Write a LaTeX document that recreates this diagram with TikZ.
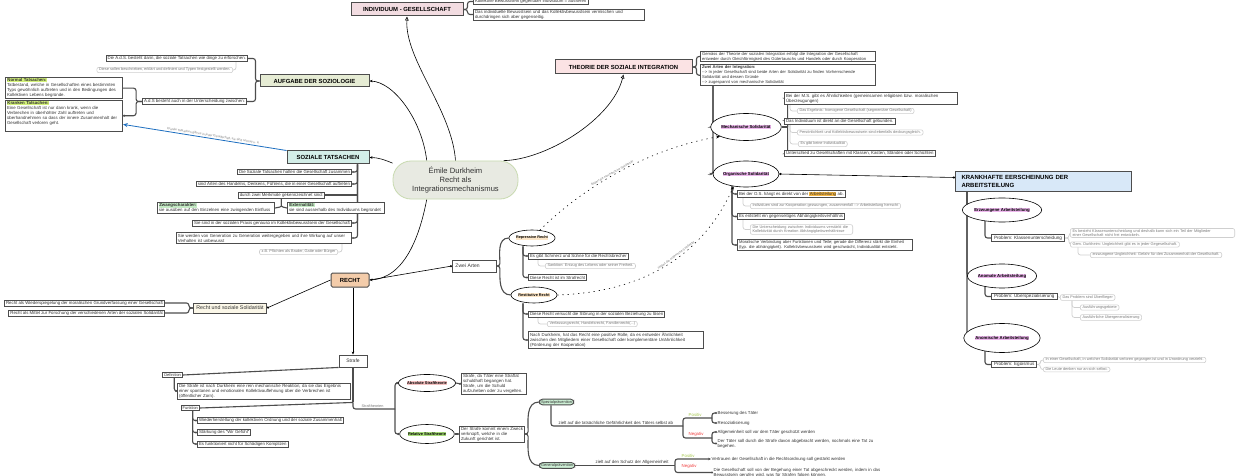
\documentclass[tikz,border=0pt]{standalone}
\usepackage{fontspec}
\setmainfont{Liberation Sans}
\usetikzlibrary{shapes.geometric,arrows.meta,calc}
\definecolor{bd}{HTML}{4D4D4D}
\definecolor{txt}{HTML}{333333}
\definecolor{ntc}{HTML}{7A7A7A}
\definecolor{ntb}{HTML}{CFCFCF}
\definecolor{cenf}{HTML}{E8EAE2}
\definecolor{cenb}{HTML}{C8DAB0}
\definecolor{tpink}{HTML}{F2DCE1}
\definecolor{tpinkb}{HTML}{FBE3E4}
\definecolor{tgreen}{HTML}{E6ECD4}
\definecolor{tcyan}{HTML}{D3EEE8}
\definecolor{tpeach}{HTML}{F3CCAA}
\definecolor{tblue}{HTML}{D8E8F8}
\definecolor{hlpink}{HTML}{EEB8EE}
\definecolor{hlyg}{HTML}{D4F27A}
\definecolor{hlg}{HTML}{C5EBC5}
\definecolor{hlor}{HTML}{FCE6C8}
\definecolor{horange}{HTML}{F5B53F}
\definecolor{hlred}{HTML}{F5C2C2}
\definecolor{hlgr}{HTML}{A9DE7A}
\definecolor{spf}{HTML}{CDEFD5}
\definecolor{posc}{HTML}{A8C850}
\definecolor{negc}{HTML}{F03C3C}
\definecolor{blueA}{HTML}{1C6EC0}
\definecolor{cream}{HTML}{FBF7E8}
\newcommand{\hlc}[2]{{\setlength{\fboxsep}{0.35pt}\colorbox{#1}{#2}}}
\newcommand{\myfs}{\fontsize{4.35}{5}\selectfont}
\newcommand{\myfsb}{\fontsize{4.15}{4.9}\selectfont}
\newcommand{\mynt}{\fontsize{3.85}{4.4}\selectfont}
\newcommand{\myttl}{\fontsize{5.9}{7}\selectfont\bfseries}
\newcommand{\myel}{\fontsize{4.3}{5}\selectfont\bfseries}
\newcommand{\mymid}{\fontsize{5}{6}\selectfont}
\pgfdeclarelayer{back}
\pgfdeclarelayer{bg}
\pgfsetlayers{back,bg,main}
\tikzset{
 bx/.style={draw=bd, line width=0.9pt, fill=white, font=\myfs, text=txt, inner xsep=1.6pt, inner ysep=1pt, align=left},
 nt/.style={draw=ntb, line width=0.6pt, rounded corners=2pt, fill=white, font=\mynt, text=ntc, inner xsep=2.2pt, inner ysep=0.9pt, align=left},
 ttl/.style={draw=bd, line width=1pt, font=\myttl, text=black, inner sep=2pt},
 el/.style={ellipse, draw=black, line width=0.6pt, fill=white, inner sep=0pt, font=\myel},
 br/.style={draw=bd, line width=1.1pt, rounded corners=2.5pt},
 gbr/.style={draw=ntb, line width=0.7pt, rounded corners=2.5pt},
 cn/.style={draw=black, line width=0.6pt},
 pl/.style={font=\myfs, text=txt, inner sep=0.5pt, anchor=west, align=left},
 dt/.style={-{Circle[length=2pt]}},
 sa/.style={-{Stealth[length=3pt,width=2.6pt]}},
 dotarr/.style={draw=black, line width=0.6pt, dash pattern=on 1.2pt off 4pt, -{Stealth[length=4pt,width=3pt]}},
 dlab/.style={font=\fontsize{3.1}{3.6}\selectfont, text=ntc, inner sep=0.8pt},
}
\begin{document}
\begin{tikzpicture}[x=1pt,y=-1pt]
\useasboundingbox (0,0) rectangle (1240,476);
\begin{pgfonlayer}{back}
\fill[white] (0,0) rectangle (1240,476);
\end{pgfonlayer}

% ---------- central ----------
\node[draw=cenb, fill=cenf, line width=0.8pt, rounded corners=18pt, minimum width=125pt, minimum height=38pt, align=center, font=\fontsize{7.6}{8.8}\selectfont, text=txt] (c) at (455.5,180) {Émile Durkheim\\Recht als\\Integrationsmechanismus};

% ---------- titles ----------
\node[ttl, fill=tpink, minimum width=112pt, minimum height=13pt] (ind) at (407,9.5) {INDIVIDUUM - GESELLSCHAFT};
\node[ttl, fill=tpinkb, minimum width=137pt, minimum height=14pt] (th) at (623.5,67) {THEORIE DER SOZIALE INTEGRATION};
\node[ttl, fill=tgreen, minimum width=109pt, minimum height=12pt] (auf) at (314.5,81) {AUFGABE DER SOZIOLOGIE};
\node[ttl, fill=tcyan, minimum width=82pt, minimum height=13pt] (st) at (328,157.5) {SOZIALE TATSACHEN};
\node[ttl, fill=tpeach, minimum width=38pt, minimum height=14pt, rounded corners=1.5pt] (re) at (350,280) {RECHT};
\node[ttl, fill=tblue, anchor=north west, text width=164pt, inner xsep=6pt, align=left, minimum height=20pt, font=\fontsize{6}{7.4}\selectfont\bfseries] (kr) at (955,171) {KRANKHAFTE EERSCHEINUNG DER\\ARBEITSTEILUNG};

% ---------- Individuum ----------
\node[bx, anchor=west] (i1) at (473,1.5) {Kollektive Bewusstsein gegenüber Individuum = äusseren};
\node[bx, anchor=west, text width=168pt] (i2) at (473,14.5) {Das individuelle Bewusstsein und das Kollektivbewusstsein vermischen und\\durchdringen sich aber gegenseitig.};

% ---------- Theorie ----------
\node[bx, anchor=west, text width=172pt, font=\myfsb] (t1) at (700,56.5) {Gemäss der Theorie der sozialen Integration erfolgt die Integration der Gesellschaft\\entweder durch Gleichförmigkeit des Gütertauschs und Handels oder durch Kooperation};
\node[bx, anchor=north west, text width=172pt, font=\myfsb] (t2) at (700,64.5) {\textbf{Zwei Arten der Integration:}\\{-}{-}> In jeder Gesellschaft sind beide Arten der Solidarität zu finden Vorherrschende\\Solidarität und dessen Gründe\\{-}{-}> zugespannt von mechanische Solidarität};

\node[el, minimum width=54pt, minimum height=27pt] (me) at (746,127) {\hlc{hlpink}{Mechanische Solidarität}};
\node[el, minimum width=55pt, minimum height=26pt] (org) at (746,174) {\hlc{hlpink}{Organische Solidarität}};

\node[bx, anchor=west, text width=170pt] (m1) at (784,98.5) {Bei der M.S. gibt es Ähnlichkeiten (gemeinsamen religiösen bzw. moralischen\\Überzeugungen)};
\node[nt, anchor=west] (m1n) at (797,111) {Das Ergebnis: homogene Gesellschaft (segmentäre Gesellschaft)};
\node[bx, anchor=west] (m2) at (784,121) {Das Individuum ist direkt an die Gesellschaft gebunden.};
\node[nt, anchor=west] (m2a) at (797,132.5) {Persönlichkeit und Kollektivbewusstsein sind ebenfalls deckungsgleich.};
\node[nt, anchor=west] (m2b) at (798,144) {Es gibt keine Individualität};
\node[bx, anchor=west] (m3) at (784,153.5) {Unterschied zu Gesellschaften mit Klassen, Kasten, Ständen oder Schichten};

\node[bx, anchor=west] (o1) at (737,194) {Bei der O.S. hängt es direkt von der \hlc{horange}{Arbeitsteilung} ab.};
\node[nt, anchor=west] (o1n) at (750,206) {Individuen sind zur Kooperation gezwungen, zusammenfall {-}{-}> Arbeitsteilung herrscht};
\node[bx, anchor=west] (o2) at (737,216.5) {Es entsteht ein gegenseitiges Abhängigkeitsverhältnis};
\node[nt, anchor=west, text width=98pt] (o2n) at (750,229.5) {Die Unterscheidung zwischen Individuums verstärkt die Kollektivität durch Kreation Abhängigkeitsverhältnisse};
\node[bx, anchor=west, text width=172pt, font=\myfsb] (o3) at (737,245) {Moralische Verbindung aber Funktionen und Teile; gerade die Differenz stärkt die Einheit\\(typ. die abhängigkeit). Kollektivbewusstsein wird geschwächt, Individualität entsteht.};

% ---------- Krankhafte ----------
\node[el, minimum width=58pt, minimum height=24pt] (e1) at (1002,210) {\hlc{hlpink}{Erzwungene Arbeitsteilung}};
\node[el, minimum width=58pt, minimum height=24pt] (e2) at (1002,276) {\hlc{hlpink}{Anomale Arbeitsteilung}};
\node[el, minimum width=58pt, minimum height=29pt] (e3) at (1002,338) {\hlc{hlpink}{Anomische Arbeitsteilung}};
\node[bx, anchor=west, line width=1.1pt, inner xsep=2.5pt, font=\fontsize{4.6}{5.4}\selectfont] (p1) at (991,238) {Problem: Klassenunterscheidung};
\node[bx, anchor=west, line width=1.1pt, inner xsep=2.5pt, font=\fontsize{4.6}{5.4}\selectfont] (p2) at (991,296.5) {Problem: Überspezialisierung};
\node[bx, anchor=west, line width=1.1pt, inner xsep=2.5pt, font=\fontsize{4.6}{5.4}\selectfont] (p3) at (991,364.5) {Problem: Egoismus};
\node[nt, anchor=west, text width=160pt] (n1a) at (1070,233) {Es besteht Klassenunterscheidung und deshalb kann sich ein Teil der Mitglieder\\einer Gesellschaft nicht frei entwickeln.};
\node[nt, anchor=west] (n1b) at (1070,244.5) {Gem. Durkheim: Ungleichheit gibt es in jeder Gegesellschaft.};
\node[nt, anchor=west] (n1c) at (1090,255) {erzwungene Ungleichheit: Gefahr für den Zusammenhalt der Gesellschaft.};
\node[nt, anchor=west] (n2a) at (1060,297.5) {Das Problem sind Überflieger};
\node[nt, anchor=west] (n2b) at (1080,307.5) {Ausführungsgebiete};
\node[nt, anchor=west] (n2c) at (1080,317.5) {Ausführliche Übergeneralisierung};
\node[nt, anchor=west] (n3a) at (1043,360) {In einer Gesellschaft, in welcher Solidarität verloren gegangen ist und in Unordnung verzieht.};
\node[nt, anchor=west] (n3b) at (1043,369.5) {Die Leute denken nur an sich selbst.};

% ---------- Aufgabe ----------
\node[bx, anchor=east] (a1) at (248,58.5) {Die A.d.S. besteht darin, die soziale Tatsachen wie dinge zu erforschen.};
\node[nt, anchor=east] (a1n) at (233,70) {Diese sollen beschrieben, erklärt und definiert und Typen festgestellt werden.};
\node[bx, anchor=east] (a2) at (247,101.5) {A.d.S besteht auch in der Unterscheidung zwischen:};
\node[bx, anchor=north west, text width=114pt] (nor) at (5,77) {\hlc{hlyg}{\textbf{Normal Tatsachen:}}\\Tatbestand, welche in Gesellschaften eines bestimmten\\Typs gewöhnlich auftreten und in den Bedingungen des\\Kollektiven Lebens begründe.};
\node[bx, anchor=north west, text width=114pt] (kra) at (5,100) {\hlc{hlyg}{\textbf{Kranken Tatsachen:}}\\Eine Gesellschaft ist nur dann krank, wenn die\\Verbrechen in überhöhter Zahl auftreten und\\überhandnehmen so dass der innere Zusammenhalt der\\Gesellschaft verloren geht.\\~};

% ---------- Soziale Tatsachen ----------
\node[bx, anchor=east] (s1) at (352,172) {Die Soziale Tatsachen halten die Gesellschaft zusammen};
\node[bx, anchor=east] (s2) at (352,184) {sind Arten des Handelns, Denkens, Fühlens, die in einer Gesellschaft auftreten};
\node[bx, anchor=east] (s3) at (325,195) {durch zwei Merkmale gekennzeichnet sind:};
\node[bx, anchor=east, text width=114pt] (zw) at (275,208) {\hlc{hlg}{\textbf{Zwangscharakter:}}\\sie ausüben auf den Einzelnen eine zwingenden Einfluss};
\node[bx, anchor=west, text width=94pt] (ex) at (287,208) {\hlc{hlg}{\textbf{Externalität:}}\\sie sind ausserhalb des Individuums begründet};
\node[bx, anchor=east] (s4) at (352,223) {Sie sind in der sozialen Praxis genauso im Kollektivbewusstsein der Gesellschaft};
\node[bx, anchor=east, text width=172pt] (s5) at (352,238) {Sie werden von Generation zu Generation weitergegeben und ihre Wirkung auf unser\\Verhalten ist unbewusst};
\node[nt, anchor=east] (s5n) at (338,252) {z.B. Pflichten als Bruder, Gatte oder Bürger};

% ---------- Recht ----------
\node[bx, anchor=east, fill=cream, font=\fontsize{5.3}{6.3}\selectfont, inner xsep=3pt, minimum height=10pt] (rs) at (267,308) {Recht und soziale Solidarität};
\node[bx, anchor=east] (rs1) at (165,303) {Recht als Wiederspiegelung der moralischen Grundverfassung einer Gesellschaft};
\node[bx, anchor=east] (rs2) at (165,313) {Recht als Mittel zur Forschung der verschiedenen Arten der sozialen Solidarität};
\node[bx, anchor=west, font=\mymid, text width=38pt, inner xsep=3pt, minimum height=12pt] (za) at (452,266) {Zwei Arten};
\node[el, minimum width=42pt, minimum height=16pt, font=\fontsize{3.8}{4.5}\selectfont\bfseries] (rep) at (532,238) {\hlc{hlor}{Repressive Recht}};
\node[el, minimum width=46pt, minimum height=16pt, font=\fontsize{3.8}{4.5}\selectfont\bfseries] (res) at (534,295) {\hlc{hlor}{Restitutive Recht}};
\node[bx, anchor=west] (r1) at (528,256) {Es gibt Schmerz und Sühne für die Rechtsbrecher};
\node[nt, anchor=west] (r1n) at (545,266) {Sanktion: Entzug des Lebens oder seiner Freiheit.};
\node[bx, anchor=west] (r2) at (528,277.5) {Diese Recht ist im Strafrecht};
\node[bx, anchor=west] (q1) at (528,314) {Diese Recht versucht die Störung in der sozialen Beziehung zu lösen};
\node[nt, anchor=west] (q1n) at (547,324) {Verfassungsrecht, Handelsrecht, Familienrecht(...)};
\node[bx, anchor=west, text width=172pt] (q2) at (528,340) {Nach Durkheim, hat das Recht eine positive Rolle, da es entweder Ähnlichkeit\\zwischen den Mitgliedern einer Gesellschaft oder komplementäre Unähnlichkeit\\(Förderung der Kooperation)};

% ---------- Strafe ----------
\node[bx, font=\mymid, minimum width=28pt, minimum height=12pt] (sf) at (353,361) {Strafe};
\node[bx, anchor=east, font=\fontsize{4}{4.6}\selectfont] (df) at (183,375) {Definition};
\node[bx, anchor=west, text width=170pt] (dfn) at (177,391) {Die Strafe ist nach Durkheim eine rein mechanische Reaktion, da sie das Ergebnis\\einer spontanen und emotionalen Kollektivauflehnung über die Verbrechen ist\\(öffentlicher Zorn).};
\node[bx, anchor=east, font=\fontsize{4}{4.6}\selectfont] (fn) at (200,408) {Funktion};
\node[bx, anchor=west] (f1) at (197,420.5) {Wiederherstellung der kollektiven Ordnung und der soziale Zusammenhalt};
\node[bx, anchor=west] (f2) at (197,432.5) {Stärkung des "Wir Gefühl"};
\node[bx, anchor=west] (f3) at (197,444) {Es funktioniert nicht für Schädigen Komplizen};
\coordinate (sj) at ($(sf.south)+(0,35)$);
\coordinate (stj) at (395,409);
\node[pl, anchor=south west, text=ntc, font=\fontsize{3.8}{4.4}\selectfont] (sth) at (361,408) {Straftheorien};
\node[el, minimum width=51pt, minimum height=17pt, font=\fontsize{3.9}{4.6}\selectfont\bfseries] (abs) at (427,383) {\hlc{hlred}{Absolute Straftheorie}};
\node[el, minimum width=51pt, minimum height=19pt, font=\fontsize{3.9}{4.6}\selectfont\bfseries] (rel) at (427,434) {\hlc{hlgr}{Relative Straftheorie}};
\node[bx, anchor=west, text width=62pt] (absb) at (461,384) {Strafe, da Täter eine Straftat\\schuldhaft begangen hat.\\Strafe, um die Schuld\\aufzuheben oder zu vergelten.};
\node[bx, anchor=west, text width=62pt] (relb) at (459,434) {Der Strafe kommt einem Zweck\\verknüpft, welche in die\\Zukunft gerichtet ist.};
\node[bx, anchor=west, fill=spf, rounded corners=3pt, font=\fontsize{3.9}{4.5}\selectfont] (sp) at (539,402) {Spezialprävention};
\node[bx, anchor=west, fill=spf, rounded corners=3pt, font=\fontsize{3.9}{4.5}\selectfont] (gp) at (539,465.5) {Generalprävention};
\coordinate (spj) at (683,426);
\coordinate (gpj) at (675,465.5);
\coordinate (pj1) at (712,418);
\coordinate (nj1) at (712,438);
\node[pl, anchor=south west] (spt) at (558,425.5) {zielt auf die tatsächliche Gefährlichkeit des Täters selbst ab};
\node[pl, anchor=south west] (gpt) at (595,465) {zielt auf den Schutz der Allgemeinheit};
\node[pl, anchor=south west, text=posc] (pos1) at (688,417.5) {Positiv};
\node[pl, anchor=south west, text=negc] (neg1) at (688,437.5) {Negativ};
\node[pl, anchor=south west, text=posc] (pos2) at (681,458.5) {Positiv};
\node[pl, anchor=south west, text=negc] (neg2) at (681,469.5) {Negativ};
\node[pl] (b1) at (717,413) {Besserung des Täter};
\node[pl] (b2) at (717,423) {Resozialisierung};
\node[pl] (b3) at (717,432) {Allgemeinheit soll vor dem Täter geschützt werden};
\node[pl, text width=160pt] (b4) at (717,443.5) {Der Täter soll durch die Strafe davon abgebracht werden, nochmals eine Tat zu\\begehen.};
\node[pl] (v1) at (711,459) {Vertrauen der Gesellschaft in die Rechtsordnung soll gestärkt werden};
\node[pl, text width=172pt] (v2) at (713,472.5) {Die Gesellschaft soll von der Begehung einer Tat abgeschreckt werden, indem in das\\Bewusstsein gerufen wird, was für Strafen folgen können.};

% ================= connectors =================
\begin{pgfonlayer}{bg}
% central
\draw[cn, -{Triangle[open,length=4pt,width=3.6pt]}] (c.north) .. controls (452,110) and (405,60) .. (ind.south);
\draw[cn, -{Triangle[open,length=4pt,width=3.6pt]}] (c.22) .. controls (545,160) and (612,120) .. (th.south);
\draw[cn, sa] (c.146) .. controls (422,120) and (394,82) .. (auf.east);
\draw[cn, sa] (c.165) .. controls (385,160) and (378,157.5) .. (st.east);
\draw[cn, sa] (c.214) .. controls (420,235) and (405,278) .. (re.east);
% individuum
\draw[br] (ind.east) -- ++(4,0) |- (i1.west);
\draw[br] (ind.east) -- ++(4,0) |- (i2.west);
% theorie
\draw[br] (th.east) -- ++(4,0) |- (t1.west);
\draw[br] (th.east) -- ++(4,0) |- (t2.west);
\coordinate (tv) at ($(t2.south west)+(13,0)$);
\draw[br, sa] (tv) |- (me.west);
\draw[br, sa] (tv) |- (org.west);
\coordinate (mv) at ($(me.east)+(6,0)$);
\draw[br] (me.east) -- (mv);
\draw[br, dt] (mv) |- (m1.west);
\draw[br, dt] (mv) |- (m2.west);
\draw[br, dt] (mv) |- (m3.west);
\draw[gbr] ($(m1.south west)+(6,0)$) |- (m1n.west);
\draw[gbr] ($(m2.south west)+(6,0)$) |- (m2a.west);
\draw[gbr] ($(m2.south west)+(6,0)$) |- (m2b.west);
\coordinate (ov) at ($(org.south)+(-14,-1)$);
\draw[br, dt] (ov) |- (o1.west);
\draw[br, dt] (ov) |- (o2.west);
\draw[br, dt] (ov) |- (o3.west);
\draw[gbr] ($(o1.south west)+(6,0)$) |- (o1n.west);
\draw[gbr] ($(o2.south west)+(6,0)$) |- (o2n.west);
\draw[cn, {Circle[open,length=2.2pt]}-{Circle[open,length=2.2pt]}] (org.east) -- ($(kr.west)+(0,-4)$);
% krankhafte
\coordinate (kv) at ($(kr.south west)+(12,0)$);
\draw[br] (kv) |- (e1.west);
\draw[br] (kv) |- (e2.west);
\draw[br] (kv) |- (e3.west);
\draw[br] ($(e1.south)+(-17,-2)$) |- (p1.west);
\draw[br] ($(e2.south)+(-17,-2)$) |- (p2.west);
\draw[br] ($(e3.south)+(-17,-2)$) |- (p3.west);
\draw[gbr] (p1.east) -- ++(4,0) |- (n1a.west);
\draw[gbr] (p1.east) -- ++(4,0) |- (n1b.west);
\draw[gbr] ($(n1b.south west)+(8,0)$) |- (n1c.west);
\draw[gbr] (p2.east) -- (n2a.west);
\draw[gbr] ($(n2a.south west)+(12,0)$) |- (n2b.west);
\draw[gbr] ($(n2a.south west)+(12,0)$) |- (n2c.west);
\draw[gbr] (p3.east) -- ++(3,0) |- (n3a.west);
\draw[gbr] (p3.east) -- ++(3,0) |- (n3b.west);
% aufgabe
\draw[br] (auf.west) -- ++(-4,0) |- (a1.east);
\draw[br] (auf.west) -- ++(-4,0) |- (a2.east);
\draw[gbr] ($(a1.south east)+(-12,0)$) |- (a1n.east);
\draw[br] (a2.west) -- ++(-6,0) |- (nor.east);
\draw[br, dt] (a2.west) -- ++(-6,0) |- (kra.east);
\draw[blueA, line width=0.8pt, -{Stealth[length=4.5pt,width=4pt]}] (st.north west) -- node[dlab, sloped, above, pos=0.45] {Kranke Tatsachen gibt es in jeder Gesellschaft, sie sind normal u. ä.} ($(kra.south east)+(0,-7)$);
% soziale tatsachen
\coordinate (sv) at ($(st.south east)+(-12,0)$);
\draw[br, dt] (sv) |- (s1.east);
\draw[br, dt] (sv) |- (s2.east);
\draw[br, dt] (sv) |- (s4.east);
\draw[br, dt] (sv) |- (s5.east);
\draw[br] (s3.east) -- (sv |- s3.east);
\draw[br] (s3.south) -- ++(0,5) to[out=-90,in=0] (zw.east);
\draw[br] (s3.south) -- ++(0,5) to[out=-90,in=180] (ex.west);
\draw[gbr] ($(s5.south east)+(-10,0)$) |- (s5n.east);
% recht
\draw[cn, -{Circle[open,length=2.2pt]}] (re.west) -- (rs.east);
\draw[br] (rs.west) -- ++(-4,0) |- (rs1.east);
\draw[br] (rs.west) -- ++(-4,0) |- (rs2.east);
\draw[cn, -{Circle[open,length=2.2pt]}] (re.east) -- (za.west);
\draw[br] (za.east) -- ++(3,0) to[out=90,in=180] (rep.west);
\draw[br] (za.east) -- ++(3,0) to[out=-90,in=180] (res.west);
\coordinate (rv) at ($(rep.south)+(-9,0)$);
\draw[br, dt] (rv) |- (r1.west);
\draw[br, dt] (rv) |- (r2.west);
\draw[gbr] ($(r1.south west)+(10,0)$) |- (r1n.west);
\coordinate (qv) at ($(res.south)+(-11,0)$);
\draw[br, dt] (qv) |- (q1.west);
\draw[br, dt] (qv) |- (q2.west);
\draw[gbr] ($(q1.south west)+(10,0)$) |- (q1n.west);
\draw[dotarr] (rep.45) .. controls (575,195) and (640,150) .. node[dlab, sloped, above, pos=0.5] {fördert die mechanische Solidarität} (me.200);
\draw[dotarr] (res.east) .. controls (650,292) and (705,250) .. node[dlab, sloped, above, pos=0.55] {fördert die organische Solidarität} (org.225);
% strafe
\draw[cn, sa] (re.south -| sf.north) -- (sf.north);
\draw[br] (sf.south west) -- (df.east);
\draw[br, dt] ($(df.south west)+(12,0)$) |- (dfn.west);
\draw[br] (sf.south) -- (sj);
\draw[br] (sj) -- (fn.east);
\coordinate (fv) at ($(fn.south west)+(12,0)$);
\draw[br, dt] (fv) |- (f1.west);
\draw[br, dt] (fv) |- (f2.west);
\draw[br, dt] (fv) |- (f3.west);
\draw[br] (sj) |- (stj);
\draw[br, dt] (stj) |- (abs.west);
\draw[br, dt] (stj) |- (rel.west);
\draw[br, dt] (abs.east) -- (absb.west);
\draw[br, dt] (rel.east) -- (relb.west);
\draw[br] (relb.east) -- ++(3,0) to[out=90,in=180] (sp.west);
\draw[br] (relb.east) -- ++(3,0) to[out=-90,in=180] (gp.west);
\draw[br] ($(sp.south west)+(12,0)$) |- (spj);
\draw[br] (spj) |- (pj1);
\draw[br] (spj) |- (nj1);
\draw[br, dt] (pj1) |- (b1.west);
\draw[br, dt] (pj1) |- (b2.west);
\draw[br, dt] (nj1) |- (b3.west);
\draw[br, dt] (nj1) |- (b4.west);
\draw[br] (gp.east) -- (gpj);
\draw[br, sa] (gpj) |- (v1.west);
\draw[br, dt] (gpj) |- (v2.west);
\end{pgfonlayer}
\end{tikzpicture}
\end{document}
